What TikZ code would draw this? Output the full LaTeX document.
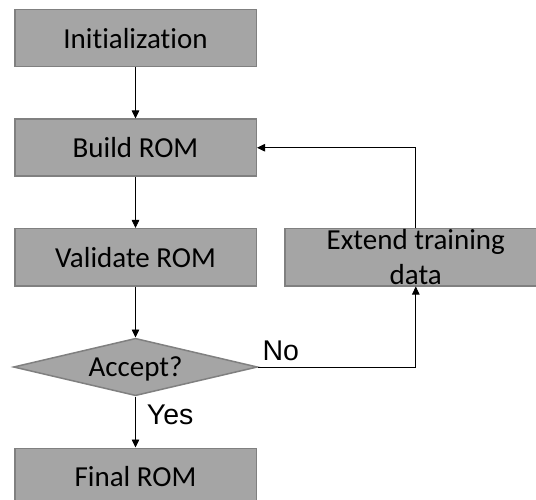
\documentclass[tikz,border=0pt]{standalone}
\usepackage{fontspec}
\setmainfont{Carlito}[Ligatures=NoCommon]
\newfontfamily\answerfont{Liberation Sans}
\usepackage{xcolor}
\usetikzlibrary{positioning,arrows.meta,shapes.geometric}
\definecolor{boxfill}{HTML}{A5A5A5}
\definecolor{boxedge}{HTML}{808080}

\begin{document}
\begin{tikzpicture}[
    x=1pt, y=-1pt,
    >={Triangle[length=8pt,width=7.5pt]},
    node distance=51pt,
    block/.style={draw=boxedge, line width=1.5pt, fill=boxfill, minimum width=241.5pt,
                  minimum height=57pt, inner sep=0pt, font=\fontsize{29}{35}\selectfont},
    wide/.style={block, minimum width=261.6pt, align=center},
    decision/.style={diamond, aspect=4, draw=boxedge, line width=1.5pt, fill=boxfill,
                     minimum width=244pt, minimum height=57.5pt, inner sep=0pt,
                     text depth=0pt, font=\fontsize{29}{35}\selectfont},
    arrow/.style={->, line width=0.8pt},
    answer/.style={font=\answerfont\fontsize{28.5}{32}\selectfont, inner sep=0pt},
]
    \clip (0,0) rectangle (536,500);

    % Main column
    \node[block] (init) at (135.5,38.25) {Initialization};
    \node[block, below=of init] (build) {Build ROM};
    \node[block, below=of build] (valid) {Validate ROM};
    \node[decision, below=of valid] (accept) {Accept?};
    \node[block, below=of accept] (final) {Final ROM};

    % Loop back
    \node[wide, right=27.25pt of valid] (extend) {Extend training\\data};

    % Main flow
    \draw[arrow] (init) -- (build);
    \draw[arrow] (build) -- (valid);
    \draw[arrow] (valid) -- (accept);
    \draw[arrow] (accept) -- node[answer, anchor=west, pos=0.35, xshift=11pt] {Yes} (final);

    % Refinement loop
    \draw[arrow] (accept.east) -| node[answer, anchor=south west, pos=0, xshift=4pt, yshift=5.5pt] {No} (extend.south);
    \draw[arrow] (extend.north) |- (build.east);

\end{tikzpicture}
\end{document}
